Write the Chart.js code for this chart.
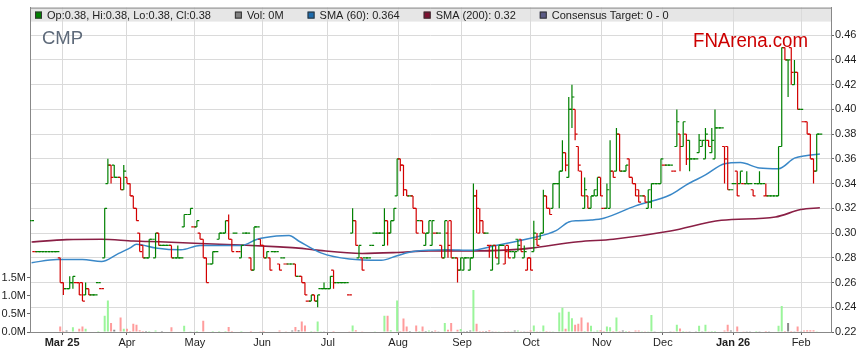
<!DOCTYPE html>
<html>
<head>
<meta charset="utf-8">
<title>CMP</title>
<script src="https://cdn.jsdelivr.net/npm/chart.js@4.4.1/dist/chart.umd.min.js"></script>
<style>
  html, body { margin: 0; padding: 0; background: #fff; }
  #wrap { width: 859px; height: 363px; }
</style>
</head>
<body>
<div id="wrap"><canvas id="chart" width="859" height="363"></canvas></div>
<script>
const ticker = 'CMP';

// month ticks (position in trading-day index)
const monthLabels = ['Mar 25', 'Apr', 'May', 'Jun', 'Jul', 'Aug', 'Sep', 'Oct', 'Nov', 'Dec', 'Jan 26', 'Feb'];
const monthTicks = [9.6, 30, 51.4, 72.5, 93.2, 115.3, 135.4, 157.1, 179.4, 198.6, 220.7, 242.1];
const boldMonths = ['Mar 25', 'Jan 26'];

const priceTicks = [0.22, 0.24, 0.26, 0.28, 0.30, 0.32, 0.34, 0.36, 0.38, 0.40, 0.42, 0.44, 0.46];
const volTicks = [0, 0.5, 1, 1.5];
const priceRange = [0.22, 0.4823];
const volRange = [0, 8.95];

// daily OHLC, one value per trading day
const opens = [
  .31, .285, .285, .285, .285, .285, .285, .285, .285, .28,
  .26, .255, .255, .26, .26, .26, .26, .25, .255, .25,
  .25, .26, .255, .28, .34, .355, .355, .345, .345, .335,
  .345, .34, .33, .32, .30, .29, .28, .28, .295, .28,
  .30, .29, .29, .29, .29, .28, .28, .28, .305, .315,
  .315, .305, .305, .30, .295, .28, .275, .275, .285, .295,
  .30, .30, .31, .295, .30, .285, .28, .30, .30, .28,
  .27, .305, .295, .29, .28, .28, .285, .285, .275, .28,
  .275, .275, .275, .275, .265, .265, .26, .245, .245, .25,
  .245, .255, .255, .255, .255, .27, .26, .26, .26, .26,
  .25, .30, .31, .28, .28, .28, .28, .29, .30, .30,
  .30, .29, .31, .30, .31, .33, .36, .355, .335, .33,
  .33, .32, .31, .31, .29, .30, .29, .30, .30, .29,
  .28, .30, .31, .28, .28, .27, .27, .28, .27, .28,
  .33, .30, .31, .30, .29, .27, .29, .275, .29, .275,
  .29, .285, .28, .295, .295, .28, .27, .28, .285, .295,
  .295, .30, .33, .32, .32, .34, .34, .35, .365, .345,
  .40, .40, .37, .35, .32, .33, .32, .33, .33, .345,
  .32, .32, .32, .35, .35, .38, .35, .35, .36, .345,
  .34, .335, .33, .33, .32, .325, .34, .34, .34, .355,
  .355, .355, .35, .37, .38, .37, .38, .375, .36, .36,
  .365, .37, .36, .375, .365, .36, .385, .385, .37, .37,
  .335, .34, .35, .34, .34, .34, .34, .335, .34, .34,
  .34, .33, .33, .33, .33, .33, .37, .45, .44, .45,
  .42, .43, .40, .39, .39, .38, .36, .35, .38
];
const highs = [
  .31, .285, .285, .285, .285, .285, .285, .285, .285, .28,
  .26, .255, .265, .265, .26, .26, .26, .26, .255, .25,
  .25, .26, .255, .32, .36, .355, .355, .345, .345, .355,
  .345, .34, .33, .32, .30, .29, .28, .295, .295, .30,
  .30, .29, .29, .29, .29, .28, .29, .28, .315, .315,
  .32, .305, .31, .30, .295, .28, .275, .285, .285, .30,
  .30, .31, .315, .295, .30, .285, .29, .30, .30, .28,
  .305, .305, .295, .29, .285, .28, .285, .285, .275, .28,
  .275, .275, .275, .275, .265, .265, .26, .245, .25, .25,
  .25, .255, .26, .255, .265, .27, .26, .26, .26, .26,
  .25, .32, .31, .29, .28, .28, .28, .29, .30, .30,
  .30, .32, .31, .31, .32, .36, .36, .355, .335, .33,
  .33, .32, .31, .31, .30, .31, .31, .30, .30, .29,
  .31, .31, .31, .28, .28, .28, .28, .28, .28, .34,
  .335, .32, .31, .30, .29, .29, .29, .29, .29, .29,
  .29, .285, .285, .295, .295, .29, .28, .28, .31, .30,
  .30, .335, .33, .32, .34, .34, .35, .375, .365, .41,
  .42, .40, .37, .35, .345, .33, .33, .335, .345, .345,
  .32, .34, .375, .35, .385, .38, .35, .355, .36, .345,
  .34, .335, .33, .33, .335, .34, .34, .34, .36, .355,
  .355, .355, .35, .40, .38, .39, .38, .375, .36, .36,
  .38, .375, .385, .375, .385, .40, .385, .385, .37, .37,
  .335, .34, .35, .35, .34, .35, .34, .335, .34, .35,
  .34, .34, .33, .33, .33, .37, .45, .45, .44, .45,
  .44, .43, .40, .39, .39, .38, .36, .38, .38
];
const lows = [
  .31, .285, .285, .285, .285, .285, .285, .285, .285, .26,
  .25, .255, .255, .255, .26, .25, .245, .25, .25, .25,
  .25, .26, .255, .28, .34, .34, .345, .345, .335, .335,
  .34, .33, .32, .31, .285, .28, .28, .28, .295, .28,
  .29, .29, .29, .29, .28, .28, .28, .28, .305, .315,
  .315, .305, .305, .295, .28, .26, .275, .275, .285, .295,
  .30, .30, .295, .285, .30, .285, .28, .30, .30, .27,
  .27, .305, .29, .28, .28, .27, .285, .285, .27, .28,
  .275, .275, .275, .265, .265, .26, .25, .245, .245, .245,
  .24, .255, .255, .255, .255, .255, .26, .26, .26, .26,
  .25, .30, .29, .28, .27, .28, .28, .29, .30, .30,
  .30, .29, .29, .30, .31, .33, .35, .33, .33, .33,
  .32, .30, .31, .30, .29, .30, .29, .30, .30, .28,
  .28, .28, .28, .28, .26, .27, .27, .28, .27, .28,
  .30, .30, .30, .30, .28, .27, .28, .275, .29, .275,
  .28, .285, .28, .285, .285, .28, .27, .27, .285, .29,
  .295, .30, .32, .315, .32, .34, .32, .35, .35, .345,
  .385, .375, .35, .33, .32, .32, .32, .33, .33, .33,
  .32, .32, .32, .345, .35, .35, .35, .35, .345, .34,
  .33, .325, .33, .325, .32, .32, .34, .34, .34, .355,
  .355, .355, .35, .37, .35, .37, .355, .35, .36, .36,
  .365, .37, .36, .37, .365, .36, .385, .385, .34, .335,
  .335, .34, .33, .34, .34, .34, .34, .33, .34, .34,
  .34, .33, .33, .33, .33, .33, .37, .44, .41, .42,
  .42, .40, .40, .39, .38, .36, .34, .35, .38
];
const closes = [
  .31, .285, .285, .285, .285, .285, .285, .285, .285, .26,
  .255, .255, .26, .265, .26, .25, .245, .255, .25, .25,
  .25, .26, .255, .32, .355, .345, .345, .345, .335, .35,
  .34, .33, .32, .31, .285, .28, .28, .295, .295, .30,
  .29, .29, .29, .29, .28, .28, .28, .28, .315, .315,
  .32, .305, .31, .295, .28, .26, .275, .285, .285, .30,
  .30, .31, .295, .285, .30, .285, .29, .30, .30, .27,
  .305, .305, .29, .28, .285, .27, .285, .285, .27, .28,
  .275, .275, .275, .265, .265, .26, .25, .245, .25, .245,
  .25, .255, .255, .255, .265, .26, .26, .26, .26, .26,
  .25, .31, .29, .29, .27, .28, .28, .29, .30, .30,
  .30, .31, .30, .31, .32, .36, .355, .335, .33, .33,
  .32, .30, .31, .30, .30, .31, .31, .30, .30, .28,
  .31, .29, .28, .28, .27, .28, .28, .28, .28, .33,
  .32, .31, .30, .30, .29, .29, .28, .29, .29, .285,
  .28, .285, .285, .29, .285, .285, .28, .27, .30, .29,
  .30, .33, .32, .315, .34, .34, .35, .365, .355, .40,
  .41, .38, .355, .33, .335, .32, .33, .335, .345, .33,
  .32, .335, .35, .345, .38, .35, .35, .355, .345, .34,
  .33, .325, .33, .325, .335, .34, .34, .34, .36, .355,
  .355, .355, .35, .39, .37, .39, .36, .36, .36, .36,
  .375, .375, .38, .37, .375, .385, .385, .385, .36, .335,
  .335, .34, .33, .35, .34, .34, .34, .33, .34, .34,
  .34, .33, .33, .33, .33, .37, .45, .44, .44, .43,
  .43, .40, .40, .39, .38, .36, .35, .38, .38
];
// volume in millions of shares
const volumes = [
  0, 0, 0, 0, 0, 0, 0, 0, 0, .155,
  .03, .04, 0, .13, 0, .09, .15, .09, 0, 0,
  0, .03, 0, .45, .87, .25, .06, 0, .40, .09,
  .09, .03, .23, .20, .05, .03, .03, .03, 0, .04,
  0, .03, 0, 0, .13, 0, 0, 0, .17, 0,
  .02, 0, .03, 0, .31, 0, 0, .03, 0, .03,
  0, .03, .14, .03, 0, 0, .03, 0, 0, .03,
  0, 0, .02, .03, 0, 0, 0, 0, .04, 0,
  .02, 0, .04, .14, .05, .29, .18, 0, .03, .02,
  .29, .02, .02, 0, 0, .03, 0, 0, 0, 0,
  .02, .18, .05, 0, .02, 0, 0, 0, .02, 0,
  0, .45, .45, .05, 0, .87, .03, .37, .15, .03,
  0, .18, .03, .15, .03, .04, .03, .04, .02, 0,
  .25, .06, .25, 0, .06, .08, .02, .03, .04, 1.16,
  .23, .03, .03, .03, .05, .02, .02, .02, 0, .02,
  .02, .02, .04, .04, .02, .02, .02, .04, .18, .02,
  .02, .18, .03, .02, .02, 0, .54, .67, .09, .56,
  .38, .20, .23, .40, .03, .26, .17, .02, .04, .05,
  .03, .15, .13, .03, .40, .03, .04, .03, .03, 0,
  .04, .04, .02, .01, .02, .47, .01, 0, .02, 0,
  0, .01, .01, .20, .10, .03, .01, .02, 0, .01,
  .17, .01, .20, .02, .03, .03, 0, 0, .04, .20,
  .04, 0, .15, 0, .01, .02, .02, 0, .03, .02,
  0, .03, .02, 0, 0, .17, .72, .03, .25, .03,
  .02, .15, .02, .04, .05, .05, .05, .01, 0
];

// moving averages at these trading days
const sma60Days = [0, 8, 16, 22, 27, 31, 33, 39, 47, 53, 59, 66, 71, 77, 81, 84, 91, 100, 110, 115, 120, 131, 138, 146, 157, 165, 169, 172, 176, 180, 190, 201, 206, 212, 218, 223, 229, 235, 240, 244, 248];
const sma60 = [.276, .2787, .2787, .277, .283, .288, .291, .288, .2865, .29, .29, .29, .295, .2976, .298, .2936, .284, .279, .278, .2817, .285, .2865, .286, .290, .2958, .302, .309, .31, .3105, .312, .322, .331, .339, .347, .356, .357, .3526, .352, .3606, .3627, .364];
const sma200Days = [0, 11, 22, 32, 42, 53, 66, 78, 84, 89, 104, 115, 125, 141, 154, 157, 172, 183, 201, 217, 234, 242, 248];
const sma200 = [.2928, .2947, .295, .2936, .2928, .2915, .2904, .2888, .2878, .2864, .2835, .2843, .2856, .2856, .287, .2878, .293, .295, .3016, .3103, .313, .319, .3205];

const FONT = "Arial, 'Liberation Sans', sans-serif";
Chart.defaults.font.family = FONT;
Chart.defaults.font.size = 11;
Chart.defaults.color = '#1e1e1e';

const days = closes.map((c, i) => i);
const UP = '#008000', DOWN = '#d20000';
const barColors = closes.map((c, i) => (i === 0 || c >= closes[i - 1]) ? UP : DOWN);
const volColors = closes.map((c, i) => {
  if (i === 0 || c === closes[i - 1]) return '#8a8a8a';
  return c > closes[i - 1] ? '#9af59a' : '#ff9c9c';
});

const last = closes.length - 1;
const legendItems = [
  { color: '#008000', text: `Op:${opens[last].toFixed(2)}, Hi:${highs[last].toFixed(2)}, Lo:${lows[last].toFixed(2)}, Cl:${closes[last].toFixed(2)}` },
  { color: '#808080', text: `Vol: ${Math.round(volumes[last])}M` },
  { color: '#1a6aac', text: `SMA (60): ${sma60[sma60.length - 1].toFixed(3)}` },
  { color: '#7d1030', text: `SMA (200): ${sma200[sma200.length - 1].toFixed(2)}` },
  { color: '#5a5a86', text: 'Consensus Target: 0 - 0' }
];

// header strip, legend text and watermarks
const frame = {
  id: 'frame',
  beforeDraw(chart) {
    const { ctx, chartArea: a } = chart;
    ctx.save();
    ctx.fillStyle = '#fff';
    ctx.fillRect(0, 0, chart.width, chart.height);
    ctx.fillStyle = '#e6e6e6';
    ctx.fillRect(a.left, a.top, a.right - a.left, 14);
    ctx.restore();
  },
  afterDraw(chart) {
    const { ctx, chartArea: a } = chart;
    ctx.save();
    ctx.strokeStyle = '#888';
    ctx.lineWidth = 1;
    ctx.beginPath();
    ctx.moveTo(a.left, a.top + 0.5);
    ctx.lineTo(a.right, a.top + 0.5);
    ctx.stroke();

    ctx.font = '11px ' + FONT;
    let x = a.left + 5;
    legendItems.forEach(item => {
      ctx.fillStyle = item.color;
      ctx.fillRect(x, a.top + 4, 7, 7);
      ctx.strokeStyle = '#333';
      ctx.strokeRect(x + 0.5, a.top + 4.5, 6, 6);
      ctx.fillStyle = '#222';
      ctx.fillText(item.text, x + 12, a.top + 11);
      x += 12 + ctx.measureText(item.text).width + 24;
    });

    ctx.fillStyle = '#5e6a7a';
    ctx.font = '18.5px ' + FONT;
    ctx.fillText(ticker, a.left + 12, a.top + 36);

    ctx.fillStyle = '#cc0000';
    ctx.font = '20px ' + FONT;
    ctx.textAlign = 'right';
    ctx.fillText('FNArena.com', a.right - 23, a.top + 39, 115);
    ctx.restore();
  }
};

new Chart(document.getElementById('chart'), {
  type: 'bar',
  data: {
    datasets: [
      {
        type: 'bar',
        label: 'Range',
        data: days.map(i => ({ x: i, y: [lows[i], highs[i]] })),
        backgroundColor: barColors,
        barThickness: 1.2,
        grouped: false,
        inflateAmount: 0,
        yAxisID: 'y',
        order: 1
      },
      {
        type: 'scatter',
        label: 'Open',
        data: days.map(i => ({ x: i - 0.38, y: opens[i] })),
        pointStyle: 'line',
        pointRadius: 1.2,
        pointBorderWidth: 1.2,
        pointBorderColor: barColors,
        yAxisID: 'y',
        order: 1
      },
      {
        type: 'scatter',
        label: 'Close',
        data: days.map(i => ({ x: i + 0.38, y: closes[i] })),
        pointStyle: 'line',
        pointRadius: 1.2,
        pointBorderWidth: 1.2,
        pointBorderColor: barColors,
        yAxisID: 'y',
        order: 1
      },
      {
        type: 'line',
        label: 'SMA (60)',
        data: sma60Days.map((d, k) => ({ x: d, y: sma60[k] })),
        borderColor: '#3a88c8',
        borderWidth: 1.5,
        pointRadius: 0,
        cubicInterpolationMode: 'monotone',
        yAxisID: 'y',
        order: 3
      },
      {
        type: 'line',
        label: 'SMA (200)',
        data: sma200Days.map((d, k) => ({ x: d, y: sma200[k] })),
        borderColor: '#8a1f45',
        borderWidth: 1.6,
        pointRadius: 0,
        cubicInterpolationMode: 'monotone',
        yAxisID: 'y',
        order: 3
      },
      {
        type: 'bar',
        label: 'Volume',
        data: days.map(i => ({ x: i, y: volumes[i] })),
        backgroundColor: volColors,
        barThickness: 2,
        grouped: false,
        inflateAmount: 0,
        yAxisID: 'yv',
        order: 5
      }
    ]
  },
  options: {
    responsive: false,
    animation: false,
    devicePixelRatio: 1,
    events: [],
    layout: { padding: { top: 3, left: 0, right: 0, bottom: 0 } },
    plugins: {
      legend: { display: false },
      tooltip: { enabled: false }
    },
    scales: {
      x: {
        type: 'linear',
        offset: false,
        min: -0.5,
        max: 251.5,
        afterBuildTicks: s => { s.ticks = monthTicks.map(v => ({ value: v })); },
        afterFit: s => { s.height = 31; },
        ticks: {
          autoSkip: false,
          maxRotation: 0,
          padding: 1,
          callback: (v, i) => monthLabels[i],
          font: c => ({ size: 11, weight: boldMonths.includes(monthLabels[c.index]) ? 'bold' : 'normal' })
        },
        grid: { offset: false, color: '#dadada', tickColor: '#666', tickLength: 3 },
        border: { color: '#888' }
      },
      y: {
        type: 'linear',
        position: 'right',
        min: priceRange[0],
        max: priceRange[1],
        afterBuildTicks: s => { s.ticks = priceTicks.map(v => ({ value: v })); },
        afterFit: s => { s.width = 28; },
        ticks: { padding: 1, callback: v => v.toFixed(2) },
        grid: { color: '#dadada', tickColor: '#666', tickLength: 3 },
        border: { color: '#888' }
      },
      yv: {
        type: 'linear',
        position: 'left',
        min: volRange[0],
        max: volRange[1],
        afterBuildTicks: s => { s.ticks = volTicks.map(v => ({ value: v })); },
        afterFit: s => { s.width = 30; },
        ticks: { padding: 1, callback: v => v.toFixed(1) + 'M' },
        grid: { drawOnChartArea: false, tickColor: '#666', tickLength: 3 },
        border: { color: '#888' }
      }
    }
  },
  plugins: [frame]
});
</script>
</body>
</html>
